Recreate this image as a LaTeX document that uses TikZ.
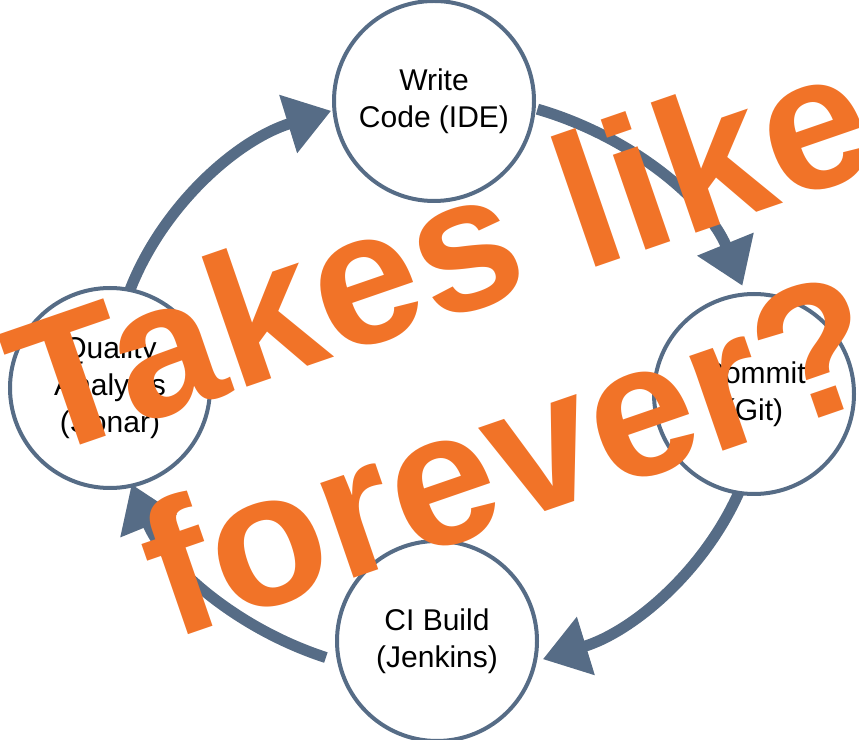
\documentclass[tikz,border=0pt]{standalone}
\usepackage{fontspec}
\setmainfont{Liberation Sans}
\usetikzlibrary{arrows.meta}
\definecolor{slate}{RGB}{86,108,134}
\definecolor{tangerine}{RGB}{241,115,40}
\tikzset{
  stage/.style={circle, draw=slate, line width=4pt, fill=white, minimum size=200pt, inner sep=0pt, align=center, text=black, font=\fontsize{30}{37}\selectfont},
  flow/.style={draw=slate, line width=11pt, -{Triangle[width=58pt,length=45pt]}},
  flowshadow/.style={draw=black!20, opacity=0.5, line width=11pt, -{Triangle[width=58pt,length=45pt]}},
  shout/.style={text=tangerine, font=\bfseries\fontsize{190}{215}\selectfont, rotate=19, anchor=base, inner sep=0pt}
}
\begin{document}
\begin{tikzpicture}[x=1pt, y=1pt]
  \useasboundingbox (0,0) rectangle (859,739);
  \coordinate (E) at (437,354);
  \path (E) ++(161:325pt and 290pt) coordinate (a1)
        (E) ++(72:325pt and 290pt) coordinate (a2)
        (E) ++(-20:325pt and 290pt) coordinate (a3)
        (E) ++(-110:325pt and 290pt) coordinate (a4);
  % shadows
  \begin{scope}[shift={(2,-4)}]
    \draw[flowshadow] (a1) arc[start angle=161, end angle=109, x radius=325pt, y radius=290pt];
    \draw[flowshadow] (a2) arc[start angle=72, end angle=20, x radius=325pt, y radius=290pt];
    \draw[flowshadow] (a3) arc[start angle=-20, end angle=-71, x radius=325pt, y radius=290pt];
    \draw[flowshadow] (a4) arc[start angle=-110, end angle=-160, x radius=325pt, y radius=290pt];
  \end{scope}
  % arrows
  \draw[flow] (a1) arc[start angle=161, end angle=109, x radius=325pt, y radius=290pt];
  \draw[flow] (a2) arc[start angle=72, end angle=20, x radius=325pt, y radius=290pt];
  \draw[flow] (a3) arc[start angle=-20, end angle=-71, x radius=325pt, y radius=290pt];
  \draw[flow] (a4) arc[start angle=-110, end angle=-160, x radius=325pt, y radius=290pt];
  % stages
  \node[stage] (write) at (434,638) {Write\\Code (IDE)};
  \node[stage] (commit) at (754,345) {Commit\\(Git)};
  \node[stage] (ci) at (437,98) {CI Build\\(Jenkins)};
  \node[stage] (qa) at (110,351) {Quality\\Analysis\\(Sonar)};
  % overlay text
  \node[shout] (t1) at (461,425) {Takes like};
  \node[shout] (t2) at (531,222) {forever?};
\end{tikzpicture}
\end{document}
